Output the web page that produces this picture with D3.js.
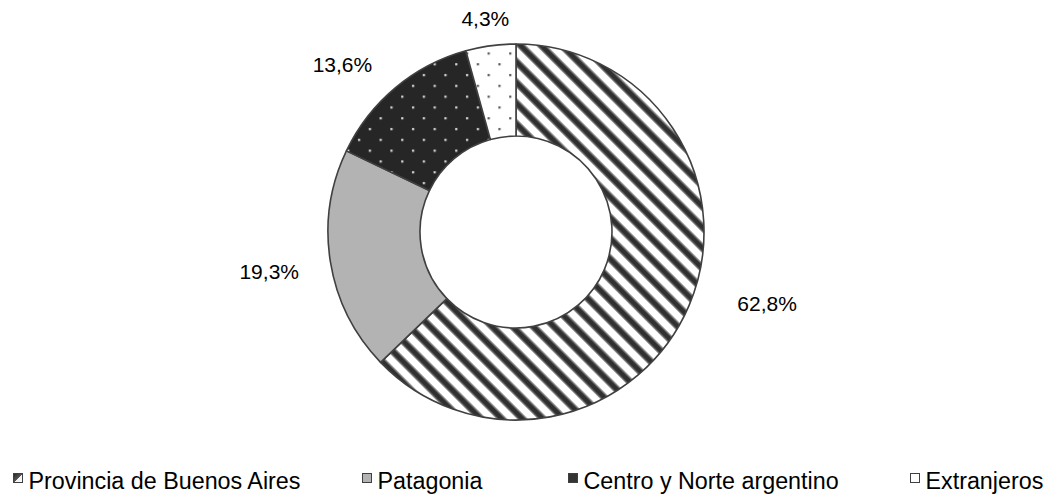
<!DOCTYPE html>
<html>
<head>
<meta charset="utf-8">
<script src="https://cdn.jsdelivr.net/npm/d3@7"></script>
<style>
  html, body { margin: 0; padding: 0; background: #fff; }
  svg { display: block; }
  text { font-family: "Liberation Sans", Arial, sans-serif; fill: #000; }
</style>
</head>
<body>
<svg id="chart" width="1061" height="499"></svg>
<script>
// ---- data ----
const categories = ["Provincia de Buenos Aires", "Patagonia", "Centro y Norte argentino", "Extranjeros"];
const values = [62.8, 19.3, 13.6, 4.3];
const valueLabels = ["62,8%", "19,3%", "13,6%", "4,3%"];

// ---- layout / style (not data) ----
const W = 1061, H = 499;
const cx = 516, cy = 232, outerR = 188, innerR = 96;
const labelR = 250;
const labelNudge = [[21, -26], [0, 0], [-13, 24], [3, 34]];
const fills = ["url(#stripes)", "#b3b3b3", "url(#dotsDark)", "url(#dotsLight)"];
const legendX = [13, 362, 568, 910];
const legendY = 478;

const svg = d3.select("#chart");
const defs = svg.append("defs");

// diagonal stripes "\"
const P = 14.6;
const stripe = defs.append("pattern")
  .attr("id", "stripes").attr("patternUnits", "userSpaceOnUse")
  .attr("width", P).attr("height", P)
  .attr("patternTransform", "rotate(-45)");
stripe.append("rect").attr("width", P).attr("height", P).attr("fill", "#fff");
stripe.append("rect").attr("x", 0).attr("width", 7.6).attr("height", P).attr("fill", "#8a8a8a");
stripe.append("rect").attr("x", 1.3).attr("width", 5).attr("height", P).attr("fill", "#303030");

// dark with light dots
const dd = defs.append("pattern")
  .attr("id", "dotsDark").attr("patternUnits", "userSpaceOnUse")
  .attr("width", 21.6).attr("height", 21.6);
dd.append("rect").attr("width", 21.6).attr("height", 21.6).attr("fill", "#262626");
dd.append("rect").attr("x", 4).attr("y", 4).attr("width", 2.2).attr("height", 2.2).attr("fill", "#d8d8d8");
dd.append("rect").attr("x", 14.8).attr("y", 14.8).attr("width", 2.2).attr("height", 2.2).attr("fill", "#d8d8d8");

// white with dark dots
const dl = defs.append("pattern")
  .attr("id", "dotsLight").attr("patternUnits", "userSpaceOnUse")
  .attr("width", 21.6).attr("height", 21.6);
dl.append("rect").attr("width", 21.6).attr("height", 21.6).attr("fill", "#fff");
dl.append("rect").attr("x", 4).attr("y", 4).attr("width", 2.2).attr("height", 2.2).attr("fill", "#555");
dl.append("rect").attr("x", 14.8).attr("y", 14.8).attr("width", 2.2).attr("height", 2.2).attr("fill", "#555");

// legend marker gradient
const lg = defs.append("linearGradient").attr("id", "legGrad")
  .attr("x1", "0").attr("y1", "0").attr("x2", "1").attr("y2", "1");
lg.append("stop").attr("offset", "0").attr("stop-color", "#222");
lg.append("stop").attr("offset", "0.5").attr("stop-color", "#555");
lg.append("stop").attr("offset", "0.5").attr("stop-color", "#eee");
lg.append("stop").attr("offset", "1").attr("stop-color", "#fff");

const pie = d3.pie().sort(null).value(d => d)(values);
const arc = d3.arc().innerRadius(innerR).outerRadius(outerR);

const g = svg.append("g").attr("transform", `translate(${cx},${cy})`);
g.selectAll("path.slice").data(pie).enter().append("path")
  .attr("class", "slice")
  .attr("d", arc)
  .attr("fill", (d, i) => fills[i])
  .attr("stroke", "#404040")
  .attr("stroke-width", 1.6)
  .attr("stroke-linejoin", "round");

g.selectAll("text.lbl").data(pie).enter().append("text")
  .attr("class", "lbl")
  .attr("x", (d, i) => Math.sin((d.startAngle + d.endAngle) / 2) * labelR + labelNudge[i][0])
  .attr("y", (d, i) => -Math.cos((d.startAngle + d.endAngle) / 2) * labelR + labelNudge[i][1])
  .attr("dy", "0.36em")
  .attr("text-anchor", "middle")
  .attr("font-size", 21)
  .text((d, i) => valueLabels[i]);

// legend
const markerFills = ["url(#legGrad)", "#b3b3b3", "#333", "#fff"];
const leg = svg.append("g");
categories.forEach((c, i) => {
  const it = leg.append("g").attr("transform", `translate(${legendX[i]},${legendY})`);
  it.append("rect").attr("x", 0.5).attr("y", -4.5).attr("width", 9).attr("height", 9)
    .attr("fill", markerFills[i]).attr("stroke", "#404040").attr("stroke-width", 1);
  it.append("text").attr("x", 15.5).attr("y", 11)
    .attr("font-size", 23.3).text(c);
});
</script>
</body>
</html>
